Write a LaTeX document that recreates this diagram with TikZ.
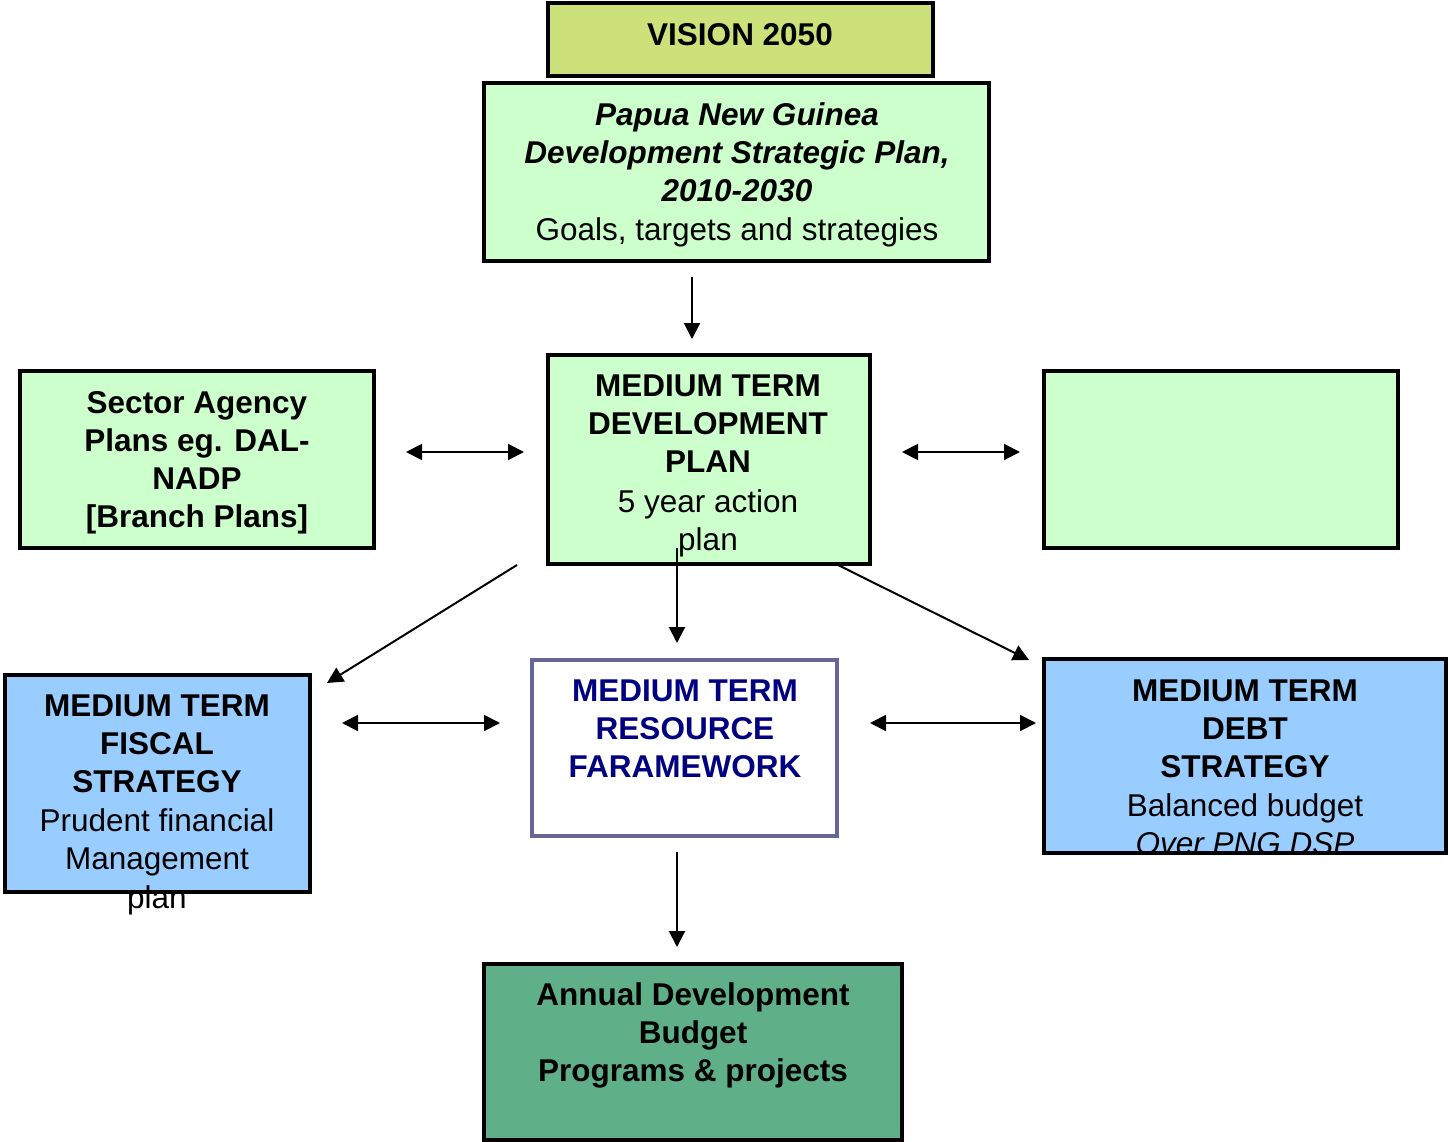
\documentclass[tikz,border=0pt]{standalone}
\usepackage{fontspec}
\setmainfont{Liberation Sans}
\usetikzlibrary{arrows.meta}
\definecolor{lgreen}{HTML}{CCFFCC}
\definecolor{vis}{HTML}{CCE17A}
\definecolor{lblue}{HTML}{99CCFF}
\definecolor{dgreen}{HTML}{5FB088}
\definecolor{rborder}{HTML}{666699}
\definecolor{navy}{HTML}{000080}
\begin{document}
\begin{tikzpicture}[x=1pt,y=-1pt,
  box/.style={rectangle,draw=black,line width=3.5pt,inner sep=0,outer sep=0},
  border/.style={draw=black,line width=3.5pt},
  txt/.style={align=center,inner sep=0,anchor=north,font=\fontsize{31.5}{38}\selectfont},
  arr/.style={-{Triangle[length=16pt,width=16pt]},line width=2pt},
  darr/.style={{Triangle[length=16pt,width=16pt]}-{Triangle[length=16pt,width=16pt]},line width=2pt}]
\useasboundingbox (0,0) rectangle (1448,1142);
% boxes
\node[box,fill=vis,minimum width=385pt,minimum height=73pt] (vision) at (740.5,39.5) {};
\node[box,fill=lgreen,minimum width=505pt,minimum height=178pt] (png) at (736.5,172) {};
\node[box,fill=lgreen,minimum width=354pt,minimum height=177pt] (sector) at (197,459.5) {};
\node[box,fill=lgreen,minimum width=322pt,minimum height=209pt] (mtdp) at (709,459.5) {};
\node[box,fill=lgreen,minimum width=354pt,minimum height=177pt] (right) at (1221,459.5) {};
\node[box,fill=lblue,minimum width=305pt,minimum height=217pt] (fiscal) at (157.5,783.5) {};
\node[box,fill=white,draw=rborder,minimum width=305pt,minimum height=176pt] (res) at (684.5,748) {};
\node[box,fill=lblue,minimum width=402pt,minimum height=194pt] (debt) at (1245,756) {};
\node[box,fill=dgreen,minimum width=418pt,minimum height=176pt] (annual) at (693,1052) {};
% texts
\node[txt] (tvision) at (740,23) {\textbf{VISION 2050}};
\node[txt] (tpng) at (737,102.5) {\textbf{\textit{Papua New Guinea}}\\\textbf{\textit{Development Strategic Plan,}}\\\textbf{\textit{2010-2030}}\\[0.5pt]Goals, targets and strategies};
\node[txt] (tsector) at (197,391) {\textbf{Sector Agency}\\\textbf{Plans eg. DAL-}\\\textbf{NADP}\\\textbf{[Branch Plans]}};
\node[txt] (tmtdp) at (708,375) {\textbf{MEDIUM TERM}\\\textbf{DEVELOPMENT}\\\textbf{PLAN}\\[1.5pt]5 year action\\plan};
\node[txt] (tfiscal) at (157,695) {\textbf{MEDIUM TERM}\\\textbf{FISCAL}\\\textbf{STRATEGY}\\[1pt]Prudent financial\\Management\\[0.5pt]plan};
\node[txt,text=navy] (tres) at (685,680) {\textbf{MEDIUM TERM}\\\textbf{RESOURCE}\\\textbf{FARAMEWORK}};
\node[txt] (tdebt) at (1245,680) {\textbf{MEDIUM TERM}\\\textbf{DEBT}\\\textbf{STRATEGY}\\[1pt]Balanced budget\\\textit{Over PNG DSP}};
\node[txt] (tannual) at (693,982) {\textbf{Annual Development}\\\textbf{Budget}\\\textbf{Programs \& projects}};
% borders redrawn over overflowing text
\draw[border] (fiscal.south west) rectangle (fiscal.north east);
\draw[border] (debt.south west) rectangle (debt.north east);
\fill[white] ([yshift=-1.8pt]debt.south west) rectangle ([yshift=-18pt]debt.south east);
% connector endpoints
\coordinate (a1s) at (692,277); \coordinate (a1e) at (692,339);
\coordinate (a2s) at (406,452); \coordinate (a2e) at (524,452);
\coordinate (a3s) at (902,452); \coordinate (a3e) at (1020,452);
\coordinate (a4s) at (677,548); \coordinate (a4e) at (677,643);
\coordinate (a5s) at (517,565); \coordinate (a5e) at (327,683);
\coordinate (a6s) at (838,565); \coordinate (a6e) at (1029,660);
\coordinate (a7s) at (342,723); \coordinate (a7e) at (500,723);
\coordinate (a8s) at (870,723); \coordinate (a8e) at (1036,723);
\coordinate (a9s) at (677,852); \coordinate (a9e) at (677,947);
\draw[arr] (a1s) -- (a1e);
\draw[darr] (a2s) -- (a2e);
\draw[darr] (a3s) -- (a3e);
\draw[arr] (a4s) -- (a4e);
\draw[arr] (a5s) -- (a5e);
\draw[arr] (a6s) -- (a6e);
\draw[darr] (a7s) -- (a7e);
\draw[darr] (a8s) -- (a8e);
\draw[arr] (a9s) -- (a9e);
\end{tikzpicture}
\end{document}
